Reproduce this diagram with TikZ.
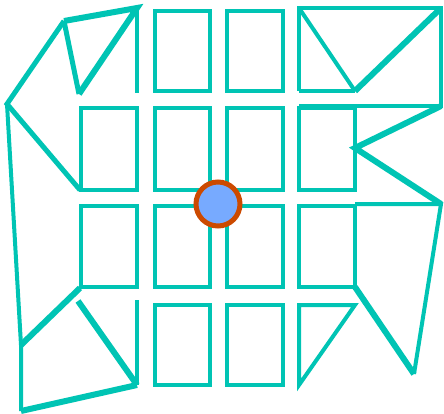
\documentclass[tikz,border=0pt]{standalone}
\begin{document}
\begin{tikzpicture}[x=1pt,y=-1pt,
  teal/.style={draw={rgb,255:red,0;green,196;blue,180},line width=4pt,line join=miter},
  mid5/.style={teal,line width=5pt},
  thick6/.style={teal,line width=6pt},
  dot/.style={circle,draw={rgb,255:red,204;green,74;blue,0},fill={rgb,255:red,119;green,170;blue,255},line width=5pt,minimum size=44pt,inner sep=0pt}]
\useasboundingbox (0,0) rectangle (444,414);
% rectangles
\draw[teal] (155,11) rectangle (210,91);
\draw[teal] (227,11) rectangle (283,91);
\draw[teal] (81,108) rectangle (137,190);
\draw[teal] (155,108) rectangle (210,190);
\draw[teal] (227,108) rectangle (283,190);
\draw[teal] (299,108) rectangle (355,190);
\draw[teal] (81,206) rectangle (137,287);
\draw[teal] (155,206) rectangle (210,287);
\draw[teal] (227,206) rectangle (283,287);
\draw[teal] (299,206) rectangle (355,287);
\draw[teal] (155,305) rectangle (210,385);
\draw[teal] (227,305) rectangle (283,385);
% top-left
\draw[thick6] (64,21) -- (137,8) -- (79,94);
\draw[mid5] (64,21) -- (79,94);
\draw[teal] (137,8) -- (137,93);
\draw[mid5] (64,21) -- (7,104) -- (80,190);
\draw[teal] (7,104) -- (21,345) -- (21,411);
% bottom-left
\draw[thick6] (21,345) -- (80,288);
\draw[thick6] (78,301) -- (137,385);
\draw[teal] (137,300) -- (137,385);
\draw[thick6] (21,411) -- (137,385);
% top-right
\draw[teal] (299,91) -- (299,8) -- (441,8) -- (441,106) -- (299,106);
\draw[teal] (299,91) -- (355,91);
\draw[teal] (299,8) -- (355,91);
\draw[thick6] (355,91) -- (441,8);
\draw[thick6] (441,106) -- (355,148) -- (441,204);
\draw[teal] (355,204) -- (441,204) -- (414,374);
\draw[thick6] (355,287) -- (414,374);
% bottom-right triangle
\draw[teal] (299,305) -- (355,305) -- (299,385) -- cycle;
% circle
\node[dot] (c) at (218,204) {};
\end{tikzpicture}
\end{document}
